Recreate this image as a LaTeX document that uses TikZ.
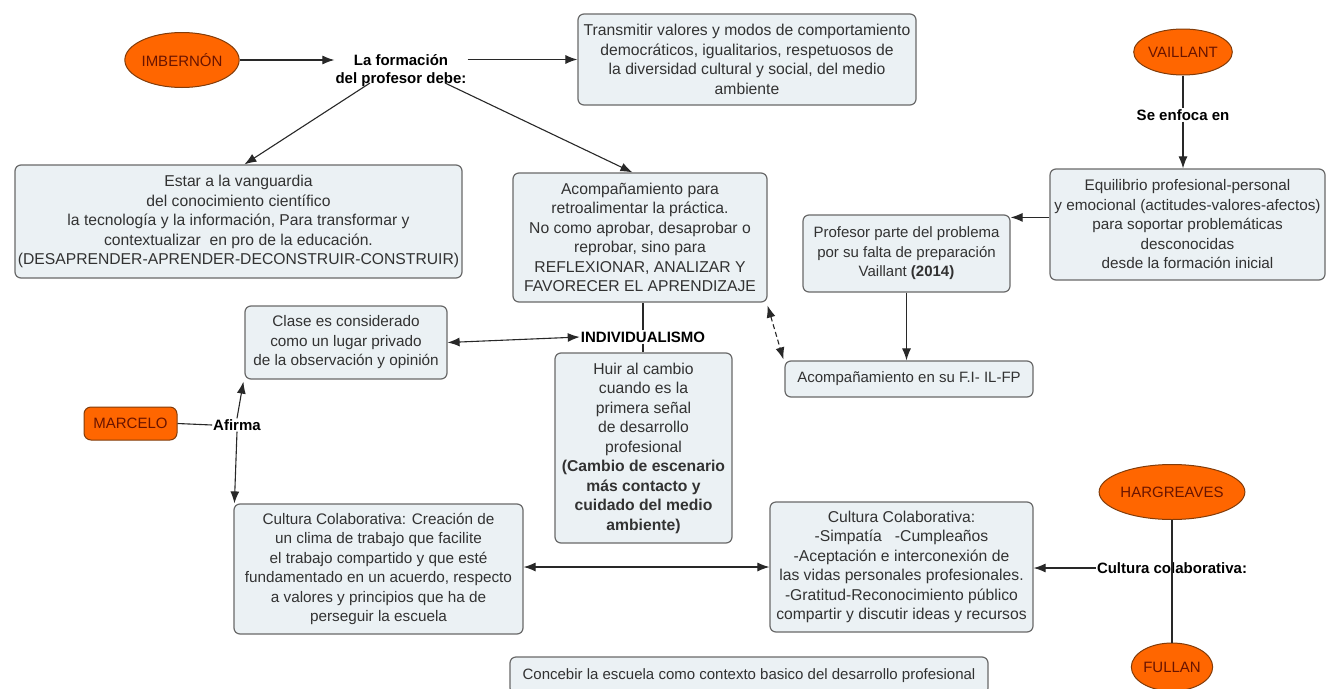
\documentclass[tikz,border=0pt]{standalone}
\usepackage{fontspec}
\setmainfont{Liberation Sans}
\usetikzlibrary{arrows.meta,calc,shapes.geometric}
\definecolor{boxfill}{RGB}{235,241,244}
\definecolor{boxdraw}{RGB}{105,105,105}
\definecolor{orfill}{RGB}{255,102,0}
\definecolor{ordraw}{RGB}{130,60,10}
\definecolor{ortext}{RGB}{105,20,0}
\definecolor{txt}{RGB}{50,50,50}
\definecolor{ln}{RGB}{40,40,40}
\begin{document}
\begin{tikzpicture}[x=1pt,y=-1pt,
  every node/.style={font=\fontsize{15}{19.5}\selectfont, text=txt},
  box/.style={draw=boxdraw, fill=boxfill, rounded corners=6pt, line width=1.2pt, align=center, inner sep=0pt,
              font=\fontsize{15.3}{19.5}\selectfont},
  big/.style={font=\fontsize{15.7}{19.5}\selectfont},
  small/.style={font=\fontsize{15}{19.5}\selectfont},
  person/.style={ellipse, draw=ordraw, fill=orfill, line width=1pt, text=ortext, inner sep=0pt},
  lbl/.style={font=\bfseries\fontsize{15}{18}\selectfont, text=black, align=center, inner sep=1pt},
  conn/.style={draw=ln, line width=1.1pt},
  arr/.style={conn, -{Latex[length=12pt,width=9pt]}},
  arrr/.style={conn, {Latex[length=12pt,width=9pt]}-{Latex[length=12pt,width=9pt]}},
]
\fill[white] (0,0) rectangle (1327,688);
\useasboundingbox (0,0) rectangle (1327,688);

% people
\node[person, minimum width=105pt, minimum height=55pt] (imb) at (182,60) {IMBERNÓN};
\node[person, minimum width=92pt, minimum height=46pt] (vail) at (1183,52) {VAILLANT};
\node[person, minimum width=128pt, minimum height=55pt] (harg) at (1172,492) {HARGREAVES};
\node[person, minimum width=80pt, minimum height=48pt] (full) at (1172,667) {FULLAN};
\node[draw=ordraw, fill=orfill, line width=1pt, text=ortext, rounded corners=7pt, inner sep=0pt,
      minimum width=93pt, minimum height=33pt] (marc) at (130.5,423.5) {MARCELO};

% linking phrases
\node[lbl] (form) at (401,71) {La formación\\del profesor debe:};
\node[lbl] (enf) at (1183,115) {Se enfoca en};
\node[lbl] (indiv) at (643,337) {INDIVIDUALISMO};
\node[lbl] (afirma) at (237,425) {Afirma};
\node[lbl] (cc) at (1172,568) {Cultura colaborativa:};

% concept boxes
\node[box, big, minimum width=338pt, minimum height=91pt] (trans) at (747,59.5)
  {Transmitir valores y modos de comportamiento\\democráticos, igualitarios, respetuosos de\\la diversidad cultural y social, del medio\\ambiente};
\node[box, big, minimum width=447pt, minimum height=113pt] (estar) at (238.5,221.5)
  {Estar a la vanguardia\\del conocimiento científico\\la tecnología y la información, Para transformar y\\contextualizar\ \ en pro de la educación.\\(DESAPRENDER-APRENDER-DECONSTRUIR-CONSTRUIR)};
\node[box, big, minimum width=254pt, minimum height=129pt] (acomp) at (640,237.5)
  {Acompañamiento para\\retroalimentar la práctica.\\No como aprobar, desaprobar o\\reprobar, sino para\\REFLEXIONAR, ANALIZAR Y\\FAVORECER EL APRENDIZAJE};
\node[box, minimum width=275pt, minimum height=111pt] (equi) at (1187.5,224.5)
  {Equilibrio profesional-personal\\y emocional (actitudes-valores-afectos)\\para soportar problemáticas\\desconocidas\\desde la formación inicial};
\node[box, small, minimum width=207pt, minimum height=77pt] (prof) at (906.5,253.5)
  {Profesor parte del problema\\por su falta de preparación\\Vaillant \textbf{(2014)}};
\node[box, small, minimum width=248pt, minimum height=36pt] (acfi) at (909,379)
  {Acompañamiento en su F.I- IL-FP};
\node[box, minimum width=202pt, minimum height=73pt] (clase) at (346,342.5)
  {Clase es considerado\\como un lugar privado\\de la observación y opinión};
\node[box, big, minimum width=177pt, minimum height=190pt] (huir) at (643.5,448)
  {Huir al cambio\\cuando es la\\primera señal\\de desarrollo\\profesional\\\textbf{(Cambio de escenario}\\\textbf{más contacto y}\\\textbf{cuidado del medio}\\\textbf{ambiente)}};
\node[box, minimum width=289pt, minimum height=130pt] (cultl) at (378.5,569)
  {Cultura Colaborativa: Creación de\\un clima de trabajo que facilite\\el trabajo compartido y que esté\\fundamentado en un acuerdo, respecto\\a valores y principios que ha de\\perseguir la escuela};
\node[box, big, minimum width=263pt, minimum height=130pt] (cultr) at (901.5,567)
  {Cultura Colaborativa:\\-Simpatía\ \ \ -Cumpleaños\\-Aceptación e interconexión de\\las vidas personales profesionales.\\-Gratitud-Reconocimiento público\\compartir y discutir ideas y recursos};
\node[box, small, minimum width=478pt, minimum height=37pt] (conc) at (749,675.5)
  {Concebir la escuela como contexto basico del desarrollo profesional};

% connectors
\draw[arr] (imb.east) -- (imb.east -| form.west);
\draw[arr] (trans.west -| form.east) -- (trans.west);
\draw[arr] ($(form.center)+(-31,12)$) -- ($(estar.north west)+(230,0)$);
\draw[arr] ($(form.center)+(44,12)$) -- ($(acomp.north west)+(120,0)$);
\draw[conn] (vail.south) -- (enf.north);
\draw[arr] (enf.south) -- (enf.south |- equi.north);
\draw[arr] ($(equi.north west)+(0,49)$) -- ($(prof.north east)+(0,3)$);
\draw[arr] (prof.south) -- (prof.south |- acfi.north);
\draw[arrr, dashed, dash pattern=on 5pt off 3pt] ($(acomp.south east)+(0,3)$) -- ($(acfi.north west)+(-1,-1)$);
\draw[conn] (indiv.north) -- (indiv.north |- acomp.south);
\draw[conn] (indiv.south) -- (indiv.south |- huir.north);
\draw[arrr] (clase.east) -- (indiv.west);
\draw[conn] (marc.east) -- (afirma.west);
\draw[arr] (afirma.north) -- ($(clase.south west)+(-1,2)$);
\draw[arr] (afirma.south) -- ($(cultl.north west)+(1,0)$);
\draw[arrr] (cultr.west -| cultl.east) -- (cultr.west);
\draw[conn] (harg.south) -- (full.north);
\draw[arr] (cc.west) -- (cc.west -| cultr.east);
\end{tikzpicture}
\end{document}
